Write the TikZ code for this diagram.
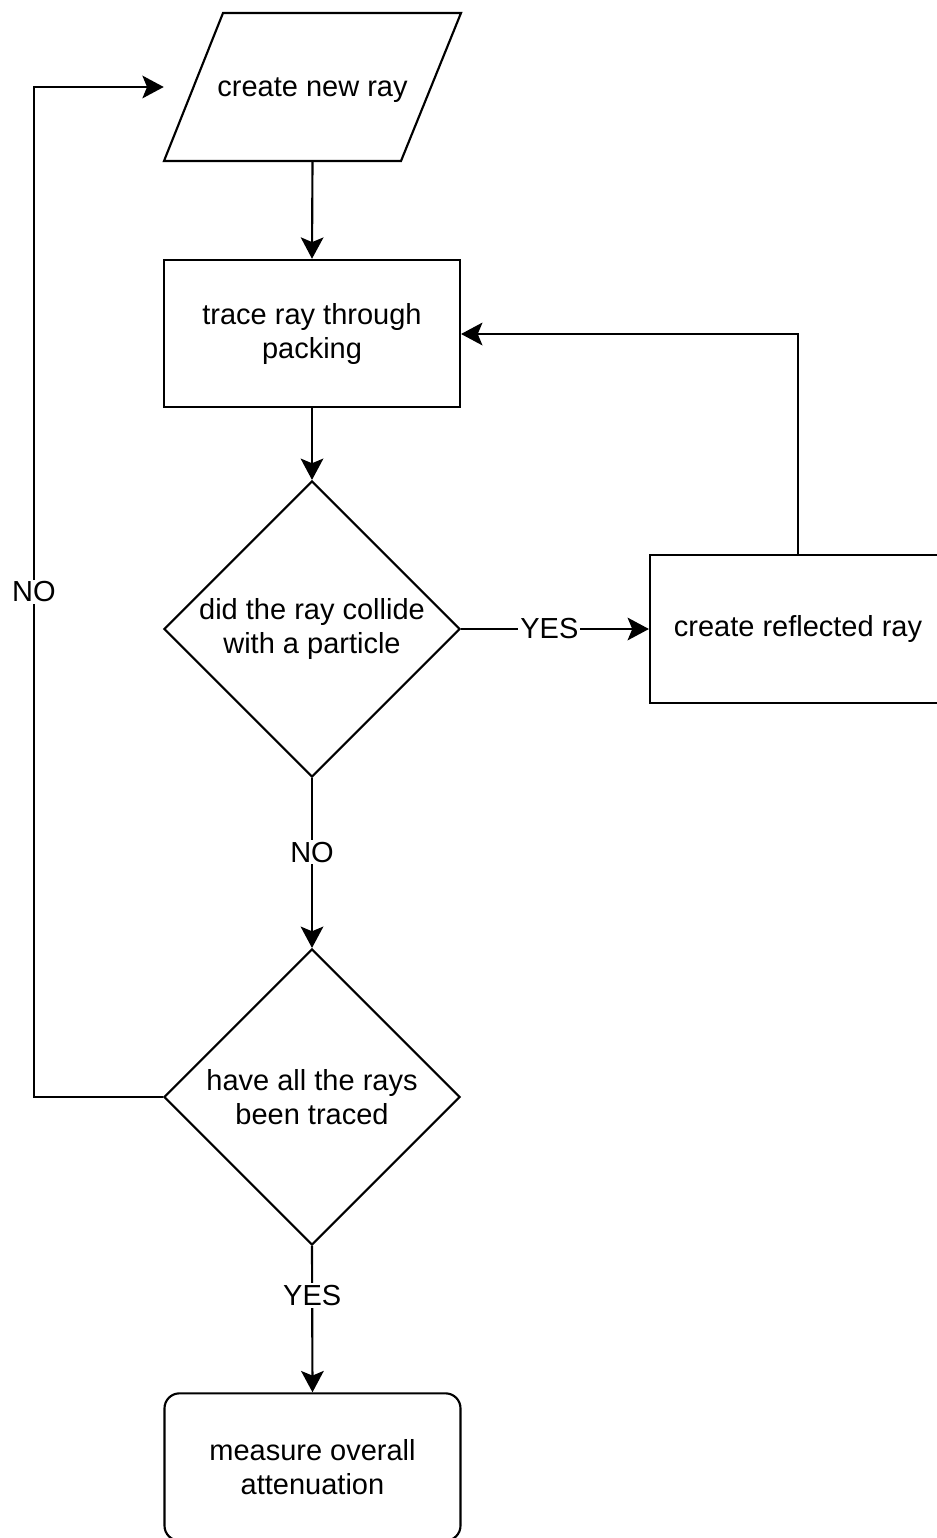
\documentclass[tikz,border=0pt]{standalone}
\usepackage{fontspec}
\setmainfont{Liberation Sans}
\usetikzlibrary{shapes.geometric,arrows.meta}
\begin{document}
\begin{tikzpicture}[x=0.75pt,y=-0.75pt,
  every node/.style={font=\fontsize{21.75}{25.5}\selectfont, align=center},
  box/.style={draw, line width=1.6pt, rectangle, inner sep=0pt, minimum width=222pt, minimum height=110.5pt},
  dec/.style={draw, line width=1.6pt, diamond, inner sep=0pt, minimum width=222pt, minimum height=222pt},
  term/.style={box, rounded corners=11.25pt},
  conn/.style={line width=1.6pt, -{Stealth[length=16pt,width=17pt,inset=3.5pt]}},
  lbl/.style={fill=white, inner sep=1.5pt}]
\useasboundingbox (0,0) rectangle (937,1538);
% parallelogram outline
\draw[line width=1.6pt, line join=miter] (223,13) -- (461,13) -- (401,161) -- (164,161) -- cycle;
\node[rectangle, inner sep=0pt, text depth=0pt, minimum width=222.75pt, minimum height=111pt] (par) at (312.5,87) {create new ray};
\node[box] (trace) at (312,333.5) {trace ray through\\packing};
\node[dec] (d1) at (312,629) {did the ray collide\\with a particle};
\node[box] (refl) at (798,629) {create reflected ray};
\node[dec] (d2) at (312,1097) {have all the rays\\been traced};
\node[term] (meas) at (312.5,1467) {measure overall\\attenuation};
\coordinate (lb) at (34,1097);
\coordinate (lt) at (34,87);
\coordinate (rt) at (798,334);
\draw[conn] (par.south) -- (trace.north);
\draw[conn] (trace.south) -- (d1.north);
\draw[conn] (d1.east) -- node[lbl, pos=0.47] {YES} (refl.west);
\draw[conn] (refl.north) -- (rt) -- (trace.east |- rt);
\draw[conn] (d1.south) -- node[lbl, pos=0.436] {NO} (d2.north);
\draw[conn] (d2.west) -- (lb) -- node[lbl, pos=0.5] {NO} (lt) -- (par.west);
\draw[conn] (d2.south) -- node[lbl, pos=0.338] {YES} (meas.north);
\end{tikzpicture}
\end{document}
